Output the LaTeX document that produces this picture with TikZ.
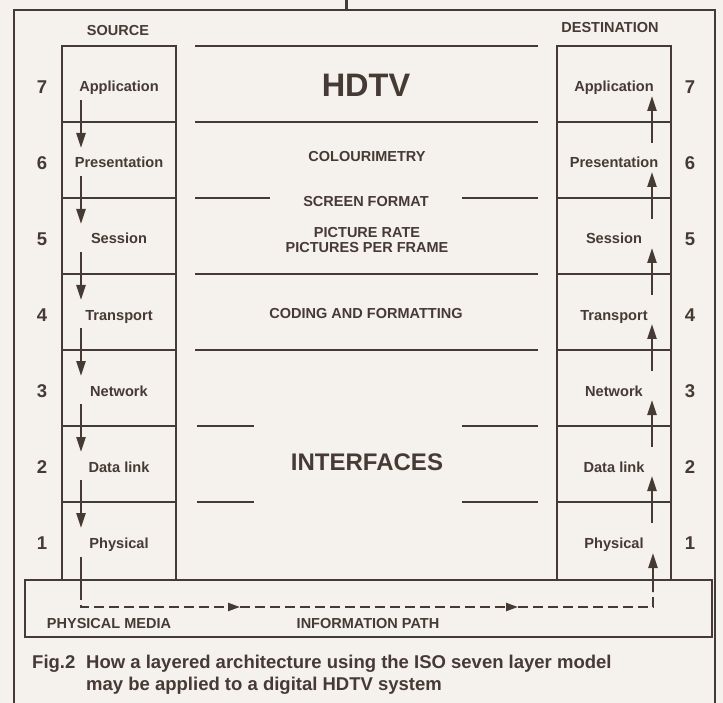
\documentclass[tikz,border=0pt]{standalone}
\usepackage{fontspec}
\setmainfont{Liberation Sans}
\usetikzlibrary{arrows.meta}

\definecolor{ink}{RGB}{70,58,52}
\definecolor{paper}{RGB}{245,241,236}

\tikzset{
  layerlabel/.style={font=\bfseries\fontsize{14.6}{16}\selectfont, text=ink, text height=10pt, text depth=0pt, inner sep=0pt},
  layernum/.style={font=\bfseries\fontsize{18.5}{20}\selectfont, text=ink, inner sep=0pt},
  capslabel/.style={font=\bfseries\fontsize{14.5}{14.5}\selectfont, text=ink, inner sep=0pt, align=center},
  biglabel/.style={font=\bfseries\fontsize{#1}{#1}\selectfont, text=ink, inner sep=0pt},
  caption/.style={font=\bfseries\fontsize{18.5}{22}\selectfont, text=ink, inner sep=0pt, anchor=base west},
  hline/.style={draw=ink, line width=1.6pt},
  colline/.style={draw=ink, line width=1.3pt},
  flow/.style={draw=ink, line width=2.3pt, -{Triangle[length=15pt,width=9pt]}},
  mediapath/.style={draw=ink, line width=2.2pt, dash pattern=on 10pt off 5pt}
}

\begin{document}
\begin{tikzpicture}[x=1pt,y=-1pt]
  \useasboundingbox (0,0) rectangle (723,703);
  \fill[paper] (0,0) rectangle (723,703);
  % frame
  \draw[ink, line width=2.5pt] (14,703) -- (14,10) -- (715,10) -- (715,703);
  \draw[ink, line width=3pt] (346,0) -- (346,10);
  % headings
  \node[capslabel] (src) at (118,31) {SOURCE};
  \node[capslabel] (dst) at (610,28) {DESTINATION};
  % the two stacks
  \draw[colline] (62,580) -- (62,46) -- (176,46) -- (176,580);
  \draw[colline] (557,580) -- (557,46) -- (671,46) -- (671,580);
  \foreach \y in {122,198,...,502}
    \draw[colline] (62,\y) -- (176,\y) (557,\y) -- (671,\y);
  % layer names and numbers
  \foreach \i/\name/\n in {0/Application/7, 1/Presentation/6, 2/Session/5,
      3/Transport/4, 4/Network/3, 5/Data link/2, 6/Physical/1} {
    \pgfmathsetmacro\yl{87+76*\i}
    \node[layerlabel] (s\i) at (119,\yl) {\name};
    \node[layerlabel] (d\i) at (614,\yl) {\name};
    \node[layernum] (sn\i) at (42,\yl) {\n};
    \node[layernum] (dn\i) at (690,\yl) {\n};
  }
  % down the source, up the destination
  \foreach \i in {0,...,5} {
    \pgfmathsetmacro\ya{87+76*\i}
    \pgfmathsetmacro\yb{87+76*(\i+1)}
    \coordinate (sa\i) at (81,\ya+13);
    \coordinate (sb\i) at (81,\yb-15);
    \coordinate (da\i) at (652,\yb-20);
    \coordinate (db\i) at (652,\ya+9);
    \draw[flow] (sa\i) -- (sb\i);
    \draw[flow] (da\i) -- (db\i);
  }
  % middle column
  \draw[hline] (195,46) -- (538,46);
  \draw[hline] (195,122) -- (538,122);
  \draw[hline] (195,198) -- (270,198) (462,198) -- (538,198);
  \draw[hline] (195,274) -- (538,274);
  \draw[hline] (195,350) -- (538,350);
  \draw[hline] (197,426) -- (254,426) (462,426) -- (538,426);
  \draw[hline] (197,502) -- (254,502) (462,502) -- (538,502);
  \node[biglabel=32.5] (hdtv) at (366,85) {HDTV};
  \node[capslabel] (colour) at (367,157) {COLOURIMETRY};
  \node[capslabel] (screen) at (366,202) {SCREEN FORMAT};
  \node[capslabel] (rate) at (367,240) {PICTURE RATE\\PICTURES PER FRAME};
  \node[capslabel] (coding) at (366,314) {CODING AND FORMATTING};
  \node[biglabel=24] (intf) at (367,462) {INTERFACES};
  % physical media
  \draw[ink, line width=1.5pt] (25,580) rectangle (712,637);
  \node[capslabel] (media) at (109,624) {PHYSICAL MEDIA};
  \node[capslabel] (info) at (368,624) {INFORMATION PATH};
  \coordinate (p0) at (81,557);
  \coordinate (p1) at (81,590);
  \coordinate (p2) at (81,607);
  \coordinate (m1) at (240,607);
  \coordinate (m2) at (518,607);
  \coordinate (p3) at (653,607);
  \coordinate (p4) at (653,592);
  \coordinate (p5) at (653,553);
  \draw[ink, line width=2.2pt] (p0) -- (p1);
  \draw[mediapath, -{Triangle[length=12pt,width=8pt]}] (p1) -- (p2) -- (m1);
  \draw[mediapath, -{Triangle[length=12pt,width=8pt]}] (m1) -- (m2);
  \draw[mediapath] (m2) -- (p3) -- (p4);
  \draw[flow] (p4) -- (p5);
  % caption
  \node[caption] (fig) at (32,668) {Fig.2};
  \node[caption] (cap1) at (86,668) {How a layered architecture using the ISO seven layer model};
  \node[caption] (cap2) at (86,690) {may be applied to a digital HDTV system};
\end{tikzpicture}
\end{document}
